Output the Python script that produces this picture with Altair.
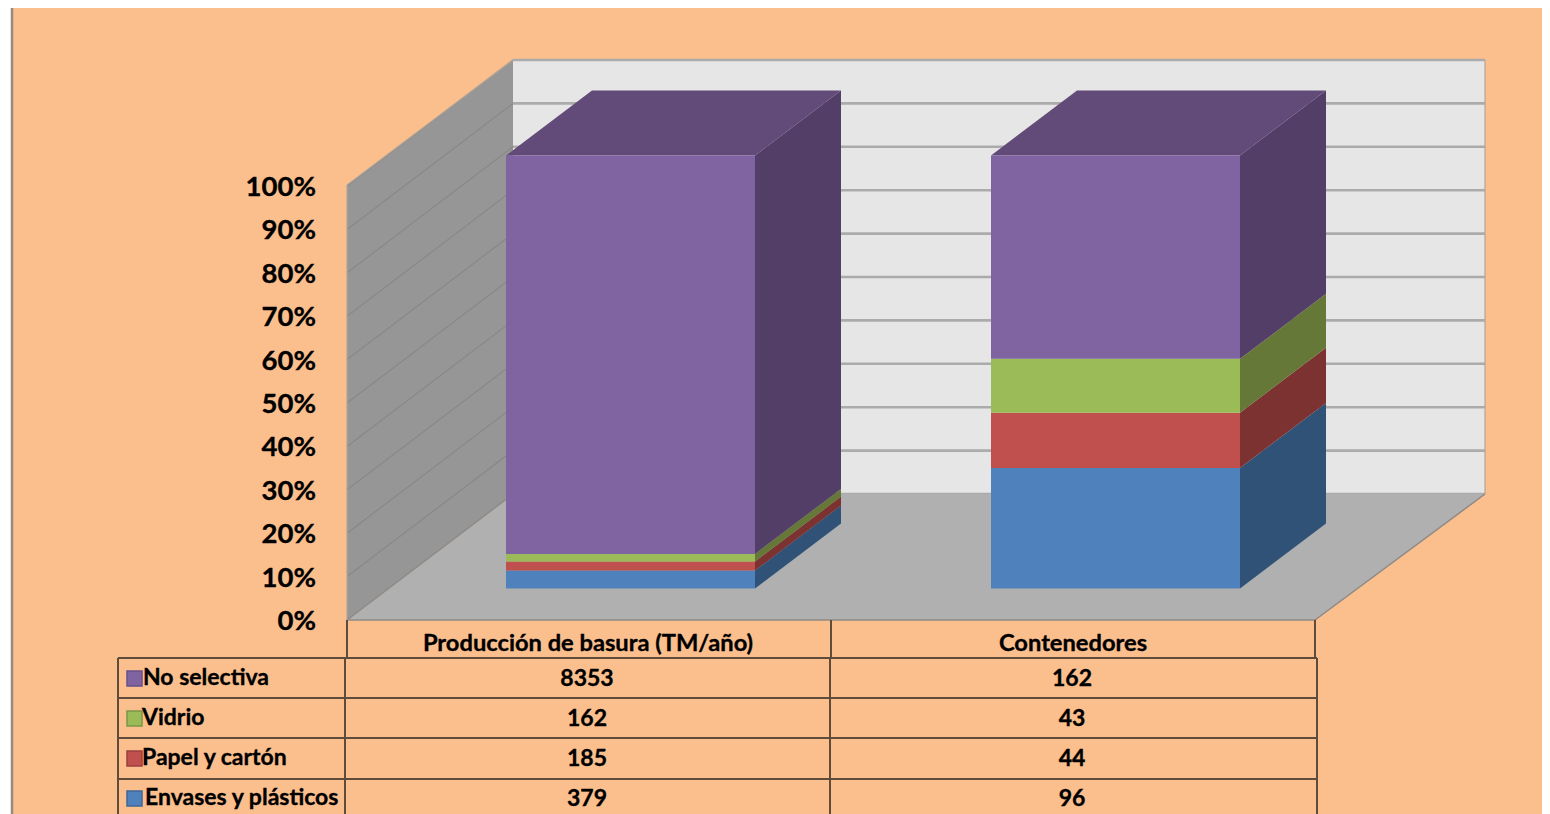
import altair as alt
import pandas as pd

# ---------- data ----------
categories = ["Producción de basura (TM/año)", "Contenedores"]
series = ["Envases y plásticos", "Papel y cartón", "Vidrio", "No selectiva"]
values = {
    "Envases y plásticos": [379, 96],
    "Papel y cartón": [185, 44],
    "Vidrio": [162, 43],
    "No selectiva": [8353, 162],
}
table_order = ["No selectiva", "Vidrio", "Papel y cartón", "Envases y plásticos"]
tick_labels = ["0%", "10%", "20%", "30%", "40%", "50%", "60%", "70%", "80%", "90%", "100%"]
tick_values = [0, 10, 20, 30, 40, 50, 60, 70, 80, 90, 100]

front_colors = ["#4F81BD", "#C0504D", "#9BBB59", "#8064A2"]
side_colors = ["#305277", "#7C3230", "#657837", "#533E68"]
top_color = "#624B78"
legend_strokes = ["#3F6797", "#994040", "#7C9647", "#66508A"]

# ---------- layout (page pixels) ----------
PAGE_H, MARGIN = 814, 8
W, H = 1534, PAGE_H - MARGIN
BASE, UNIT = 588.5, 4.33      # bar foot, pixels per percent
DX, DY = 86, 65               # depth of a bar
BAR_X = [506, 991]
BAR_W = 249
FONT = "Lato"


def u(p):
    """page pixel row -> percent units of the y scale"""
    return (BASE - p) / UNIT


def px(p):
    return p - MARGIN


xs = alt.Scale(domain=[0, W], range=[0, W])
ys = alt.Scale(domain=[u(PAGE_H), u(MARGIN)], range=[H, 0])
X = alt.X("x:Q", scale=xs, axis=None)
Y = alt.Y("y:Q", scale=ys, axis=None)
COL = alt.Color("c:N", scale=None, legend=None)


def rects(rows, **kw):
    return alt.Chart(pd.DataFrame(rows)).mark_rect(**kw).encode(
        x=X, x2="x2:Q", y=Y, y2="y2:Q", color=COL)


def rules(rows, color, width):
    return alt.Chart(pd.DataFrame(rows)).mark_rule(color=color, strokeWidth=width).encode(
        x=X, x2="x2:Q", y=Y, y2="y2:Q")


def vface(color, rows):
    # a face whose left and right edges are vertical
    return alt.Chart(pd.DataFrame(rows)).mark_area(color=color, interpolate="linear", orient="vertical").encode(
        x=X, y=alt.Y("y:Q", scale=ys, axis=None), y2="y2:Q")


def hface(color, rows):
    # a face whose top and bottom edges are horizontal
    return alt.Chart(pd.DataFrame(rows)).mark_area(color=color, interpolate="linear", orient="horizontal").encode(
        y=Y, x=alt.X("x:Q", scale=xs, axis=None), x2="x2:Q")


def line_rows(*segs):
    return [dict(x=px(a), x2=px(b), y=u(c), y2=u(d)) for a, b, c, d in segs]


# ---------- background ----------
bg = rects([dict(x=px(13), x2=W, y=u(MARGIN), y2=u(PAGE_H), c="#FBBF8E")])
left_edge = rules(line_rows((12, 12, MARGIN, PAGE_H)), "#958A7E", 2.5)

# ---------- walls and floor ----------
WL, WR, WT, WB = 513, 1485, 60, 494   # back wall
FL, FR, FB = 347, 1315, 620            # floor front edge
LT = 185                               # left wall front top
back_wall = rects([dict(x=px(WL), x2=px(WR), y=u(WT), y2=u(WB), c="#E6E6E6")])
left_wall = vface("#969696", [
    dict(x=px(FL), y=u(LT), y2=u(FB)),
    dict(x=px(WL), y=u(WT), y2=u(WB)),
])
floor = hface("#B0B0B0", [
    dict(y=u(FB), x=px(FL), x2=px(FR)),
    dict(y=u(WB), x=px(WL), x2=px(WR)),
])
STEP = (WB - WT) / 100
grid_back = rules(line_rows(*[(WL, WR, WB - STEP * t, WB - STEP * t) for t in tick_values]), "#ABABAB", 2.6)
grid_left = rules(line_rows(*[(FL, WL, FB - STEP * t, WB - STEP * t) for t in tick_values[1:]]), "#888888", 1.2)
floor_edge = rules(line_rows((FL, FR, FB, FB), (FR, WR, FB, WB), (WL, FL, WB, FB)), "#8F8A85", 1.5)
wall_edge = rules(line_rows((FL, WL, LT, WT), (FL, FL, LT, FB), (WR, WR, WT, WB)), "#B5A594", 1.2)

# ---------- bars ----------
front, bar_faces = [], []
lift = DY / UNIT
for i, x0 in enumerate(BAR_X):
    total = sum(values[s][i] for s in series)
    cum = 0.0
    for j, s in enumerate(series):
        pct = values[s][i] / total * 100
        lo, hi = cum, cum + pct
        cum = hi
        front.append(dict(x=px(x0), x2=px(x0 + BAR_W), y=hi, y2=lo, c=front_colors[j]))
        bar_faces.append(vface(side_colors[j], [
            dict(x=px(x0 + BAR_W), y=hi, y2=lo),
            dict(x=px(x0 + BAR_W + DX), y=hi + lift, y2=lo + lift),
        ]))
    bar_faces.append(hface(top_color, [
        dict(y=100.0, x=px(x0), x2=px(x0 + BAR_W)),
        dict(y=100 + lift, x=px(x0 + DX), x2=px(x0 + BAR_W + DX)),
    ]))
bars_front = rects(front)


# ---------- text ----------
def texts(rows, size, align, dy):
    return alt.Chart(pd.DataFrame(rows)).mark_text(
        font=FONT, fontWeight="bold", fontSize=size, align=align, baseline="middle",
        color="#000000", stroke="#000000", strokeWidth=0.35, dy=dy
    ).encode(x=X, y=Y, text="t:N")


y_labels = texts([dict(x=px(316), y=u(FB - STEP * v), t=l) for v, l in zip(tick_values, tick_labels)], 27.5, "right", 2)

ROW_Y = [677, 717, 757, 797]
COL_X = [587, 1072]
HEAD_X = [588, 1073]
LABEL_X = [143, 142, 142, 145]
header = texts([dict(x=px(a), y=u(643), t=c) for a, c in zip(HEAD_X, categories)], 23.7, "center", 1)
cells = []
for name, ry in zip(table_order, ROW_Y):
    for cx, v in zip(COL_X, values[name]):
        cells.append(dict(x=px(cx), y=u(ry), t=str(v)))
cell_text = texts(cells, 23, "center", 2)
row_names = texts([dict(x=px(lx), y=u(ry - 1), t=n) for lx, ry, n in zip(LABEL_X, ROW_Y, table_order)], 23, "left", 2)

# ---------- table ----------
TC = "#5F4B3A"
table = rules(line_rows(
    (FL, FL, FB, 658), (831, 831, FB, 658), (FR, FR, FB, 658),
    (118, 118, 658, PAGE_H), (345, 345, 658, PAGE_H), (830, 830, 658, PAGE_H), (1317, 1317, 658, PAGE_H),
    (118, 1317, 658, 658), (118, 1317, 698, 698), (118, 1317, 738, 738), (118, 1317, 779, 779),
), TC, 2)

swatches = []
for name, ry in zip(table_order, ROW_Y):
    j = series.index(name)
    swatches.append(dict(x=px(127), x2=px(142), y=u(ry - 6), y2=u(ry + 9), c=front_colors[j], s=legend_strokes[j]))
legend = alt.Chart(pd.DataFrame(swatches)).mark_rect(strokeWidth=1.5).encode(
    x=X, x2="x2:Q", y=Y, y2="y2:Q", color=COL,
    stroke=alt.Stroke("s:N", scale=None, legend=None))

chart = alt.layer(
    bg, left_edge, back_wall, grid_back, left_wall, grid_left, floor, floor_edge, wall_edge,
    *bar_faces, bars_front,
    table, legend, y_labels, header, cell_text, row_names,
).properties(
    width=W, height=H, padding=0, background="#FFFFFF",
    autosize=alt.AutoSizeParams(type="none"),
).configure_view(stroke=None)

chart.save("out.html", embed_options={"renderer": "svg", "actions": False})
